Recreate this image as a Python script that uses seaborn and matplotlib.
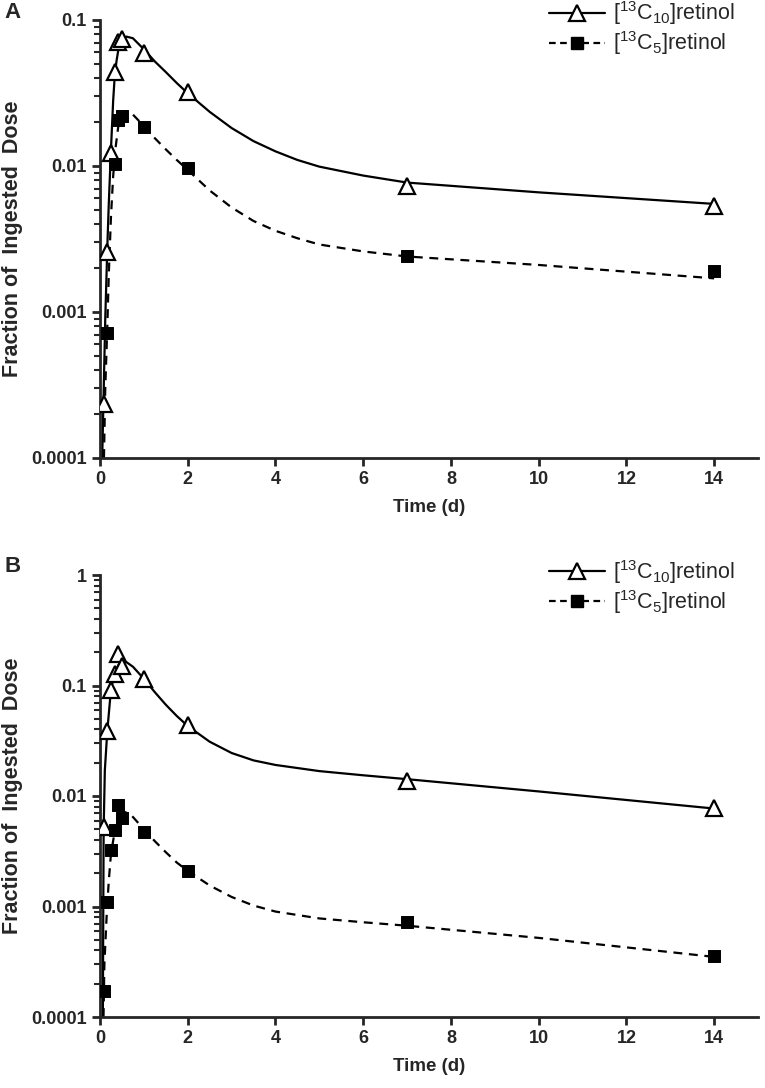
import numpy as np
import pandas as pd
import matplotlib
matplotlib.use('Agg')
import matplotlib.pyplot as plt
import matplotlib.ticker as mticker
from matplotlib.lines import Line2D
import seaborn as sns

sns.set_style('ticks')
plt.rcParams['font.family'] = ['Liberation Sans', 'DejaVu Sans']
plt.rcParams['mathtext.fontset'] = 'custom'
plt.rcParams['mathtext.rm'] = 'Liberation Sans'

# --- observed data (time in days, fraction of ingested dose) ---
time_c10 = [0.083, 0.167, 0.25, 0.333, 0.417, 0.5, 1, 2, 7, 14]
time_c5_a = [0.167, 0.333, 0.417, 0.5, 1, 2, 7, 14]
time_c5_b = [0.083, 0.167, 0.25, 0.333, 0.417, 0.5, 1, 2, 7, 14]

a_c10 = [0.000234, 0.00259, 0.0122, 0.0443, 0.071, 0.0738, 0.0591, 0.0323, 0.0073, 0.0053]
a_c5 = [0.00072, 0.0103, 0.0207, 0.022, 0.0186, 0.0097, 0.0024, 0.0019]

b_c10 = [0.00527, 0.0388, 0.091, 0.127, 0.193, 0.149, 0.115, 0.044, 0.0137, 0.0078]
b_c5 = [0.000173, 0.0011, 0.00325, 0.00492, 0.0083, 0.00628, 0.00475, 0.0021, 0.00072, 0.000356]

# --- model fit curves ---
fit_t_a10 = [0.05, 0.083, 0.12, 0.167, 0.2, 0.25, 0.3, 0.333, 0.375, 0.42, 0.5, 0.6, 0.75, 1,
             1.25, 1.5, 1.75, 2, 2.5, 3, 3.5, 4, 4.5, 5, 6, 7, 10, 14]
fit_a10 = [0.0001, 0.00028, 0.0009, 0.0028, 0.0055, 0.013, 0.028, 0.04, 0.052, 0.063, 0.073,
           0.077, 0.075, 0.063, 0.052, 0.044, 0.037, 0.0315, 0.0235, 0.0182, 0.0148, 0.0126,
           0.011, 0.0099, 0.0086, 0.0077, 0.0066, 0.0055]
fit_t_a5 = [0.09, 0.12, 0.167, 0.2, 0.25, 0.3, 0.35, 0.42, 0.5, 0.6, 0.75, 1, 1.25, 1.5, 1.75,
            2, 2.5, 3, 3.5, 4, 4.5, 5, 6, 7, 10, 14]
fit_a5 = [0.0001, 0.0003, 0.0008, 0.0018, 0.0045, 0.0085, 0.013, 0.019, 0.0225, 0.0238, 0.0225,
          0.0188, 0.0155, 0.013, 0.011, 0.0094, 0.0068, 0.0052, 0.0042, 0.0036, 0.0032, 0.0029,
          0.0026, 0.0024, 0.0021, 0.0017]

fit_t_b10 = [0.065, 0.075, 0.083, 0.11, 0.167, 0.25, 0.333, 0.42, 0.52, 0.6, 0.75, 1, 1.25, 1.5,
             1.75, 2, 2.5, 3, 3.5, 4, 5, 6, 7, 10, 14]
fit_b10 = [0.0001, 0.001, 0.005, 0.017, 0.039, 0.092, 0.128, 0.153, 0.165, 0.163, 0.148, 0.115,
           0.087, 0.067, 0.053, 0.043, 0.031, 0.0245, 0.021, 0.0191, 0.0168, 0.0154, 0.0142,
           0.011, 0.0077]
fit_t_b5 = [0.08, 0.1, 0.15, 0.2, 0.25, 0.333, 0.42, 0.55, 0.7, 1, 1.25, 1.5, 1.75, 2, 2.5, 3,
            3.5, 4, 5, 6, 7, 10, 14]
fit_b5 = [0.0001, 0.0003, 0.0008, 0.0017, 0.003, 0.0047, 0.0062, 0.0072, 0.0068, 0.005, 0.0039,
          0.0031, 0.0025, 0.0021, 0.00155, 0.00122, 0.00102, 0.0009, 0.00078, 0.00072, 0.00067,
          0.00052, 0.00035]

label_c10 = r'[$^{13}$C$_{10}$]retinol'
label_c5 = r'[$^{13}$C$_{5}$]retinol'


def draw_panel(ax, t10, y10, t5, y5, ft10, f10, ft5, f5, ylim, leg_y):
    sns.lineplot(x=ft10, y=f10, ax=ax, color='black', lw=1.6, sort=False)
    sns.lineplot(x=ft5, y=f5, ax=ax, color='black', lw=1.6, sort=False)
    ax.lines[-1].set_dashes([4, 3])
    ax.plot(t10, y10, linestyle='none', marker='^', ms=11, mfc='white', mec='black', mew=1.6,
            zorder=4)
    sns.scatterplot(x=t5, y=y5, ax=ax, marker='s', s=75, color='black', edgecolor='black',
                    zorder=5)
    ax.set_yscale('log')
    ax.set_ylim(*ylim)
    ax.set_xlim(0, 15)
    ax.set_xticks(range(0, 15, 2))
    ax.yaxis.set_major_locator(mticker.LogLocator(base=10))
    ax.yaxis.set_minor_locator(mticker.LogLocator(base=10, subs=np.arange(2, 10)))
    ax.yaxis.set_minor_formatter(mticker.NullFormatter())
    ax.yaxis.set_major_formatter(mticker.FuncFormatter(lambda v, p: f'{v:g}' if v >= 0.001 else f'{v:.4f}'))
    sns.despine(ax=ax)
    for s in ['left', 'bottom']:
        ax.spines[s].set_linewidth(2)
    ax.tick_params(which='major', length=6, width=2, labelsize=13)
    ax.tick_params(which='minor', length=4, width=1.5)
    for lab in ax.get_xticklabels() + ax.get_yticklabels():
        lab.set_fontweight('bold')
    ax.set_xlabel('Time (d)', fontsize=13.5, fontweight='bold', labelpad=8)
    ax.set_ylabel('Fraction of  Ingested  Dose', fontsize=15.5, fontweight='bold', labelpad=6)
    handles = [
        Line2D([], [], color='black', lw=1.6, marker='^', ms=11, mfc='white', mec='black', mew=1.6),
        Line2D([], [], color='black', lw=1.6, ls=(0, (3, 2)), marker='s', ms=8.5, mfc='black', mec='black'),
    ]
    ax.legend(handles, [label_c10, label_c5], loc='upper right', bbox_to_anchor=(0.985, leg_y),
              frameon=False, fontsize=15.5, handlelength=2.6, handletextpad=0.4, labelspacing=0.1,
              borderaxespad=0.2)


fig = plt.figure(figsize=(7.65, 10.88), dpi=100)
ax_a = fig.add_axes([100 / 765, 1 - 458 / 1088, 658 / 765, 438 / 1088])
ax_b = fig.add_axes([100 / 765, 1 - 1017 / 1088, 658 / 765, 442 / 1088])

draw_panel(ax_a, time_c10, a_c10, time_c5_a, a_c5, fit_t_a10, fit_a10, fit_t_a5, fit_a5,
           (0.0001, 0.1), 1.077)
draw_panel(ax_b, time_c10, b_c10, time_c5_b, b_c5, fit_t_b10, fit_b10, fit_t_b5, fit_b5,
           (0.0001, 1), 1.068)

fig.text(4 / 765, 1 - 2 / 1088, 'A', fontsize=16, fontweight='bold', va='top', ha='left')
fig.text(4 / 765, 1 - 556 / 1088, 'B', fontsize=16, fontweight='bold', va='top', ha='left')

fig.savefig('out.png', dpi=100)
